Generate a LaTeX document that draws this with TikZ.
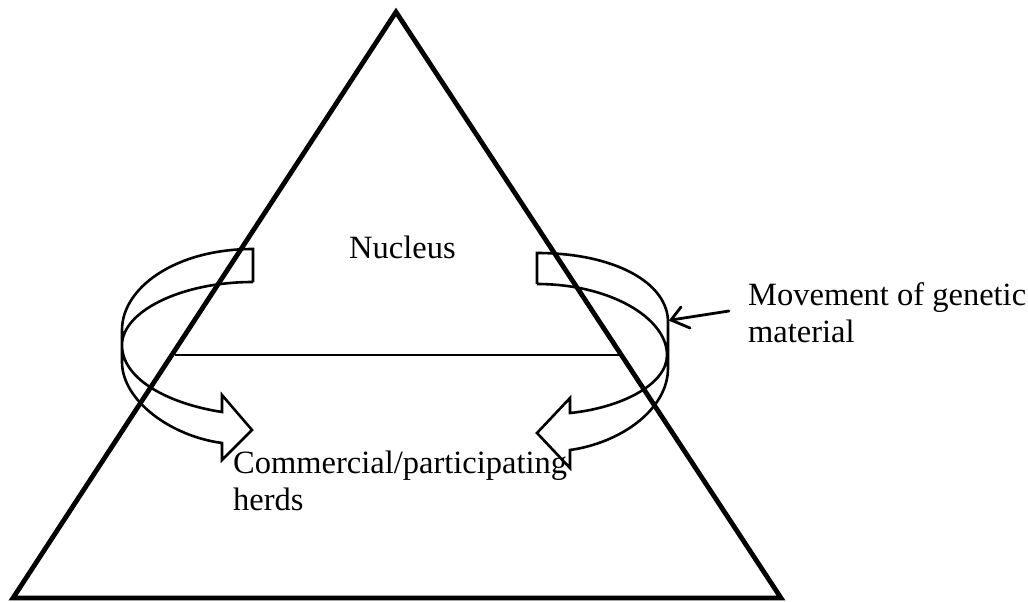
\documentclass[tikz,border=0pt]{standalone}
\usepackage{fontspec}
\setmainfont{Liberation Serif}
\tikzset{
  pyramid/.style={line width=4.8pt, line join=miter},
  band/.style={line width=2.6pt, line join=miter, fill=none},
  divider/.style={line width=1.1pt},
  pointer/.style={line width=2.8pt, line cap=round},
  label/.style={anchor=base west, inner sep=0pt, font=\fontsize{32.5}{37}\selectfont},
}
\begin{document}
\begin{tikzpicture}[x=1pt, y=-1pt]
\useasboundingbox (0,0) rectangle (1028,602);

% pyramid
\coordinate (apex) at (396,12);
\coordinate (bl) at (13,598);
\coordinate (br) at (781,598);
\draw[pyramid] (apex) -- (bl) -- (br) -- cycle;

% tier boundary
\coordinate (dl) at (175,355);
\coordinate (dr) at (620,355);
\draw[divider] (dl) -- (dr);

% left circular arrow (band seen in perspective)
\draw[band] (253,282) -- (253,249)
  .. controls (175,249) and (122,288) .. (122,330)
  -- (122,362)
  .. controls (122,400) and (170,436) .. (222,443)
  -- (222,460) -- (252,430) -- (222,395) -- (222,412)
  .. controls (170,404) and (122,380) .. (122,345)
  .. controls (122,312) and (180,282) .. (253,282);

% right circular arrow
\draw[band] (537,284) -- (537,253)
  .. controls (615,253) and (668,283) .. (668,322)
  -- (668,368)
  .. controls (668,410) and (620,443) .. (570,450)
  -- (570,468) -- (537,433) -- (570,398) -- (570,413)
  .. controls (620,408) and (667,385) .. (667,355)
  .. controls (667,318) and (610,284) .. (537,284);

% labels
\node[label] (nuc) at (349,258) {Nucleus};
\node[label] (com1) at (233,473) {Commercial/participating};
\node[label] (com2) at (233,510) {herds};
\node[label] (mov1) at (748,305) {Movement of genetic};
\node[label] (mov2) at (748,342) {material};

% pointer to the band
\coordinate (ptip) at (671,320);
\coordinate (ptail) at (729,311);
\draw[pointer] (ptail) -- (ptip);
\draw[pointer] (681,307) -- (ptip) -- (690,328);
\end{tikzpicture}
\end{document}
